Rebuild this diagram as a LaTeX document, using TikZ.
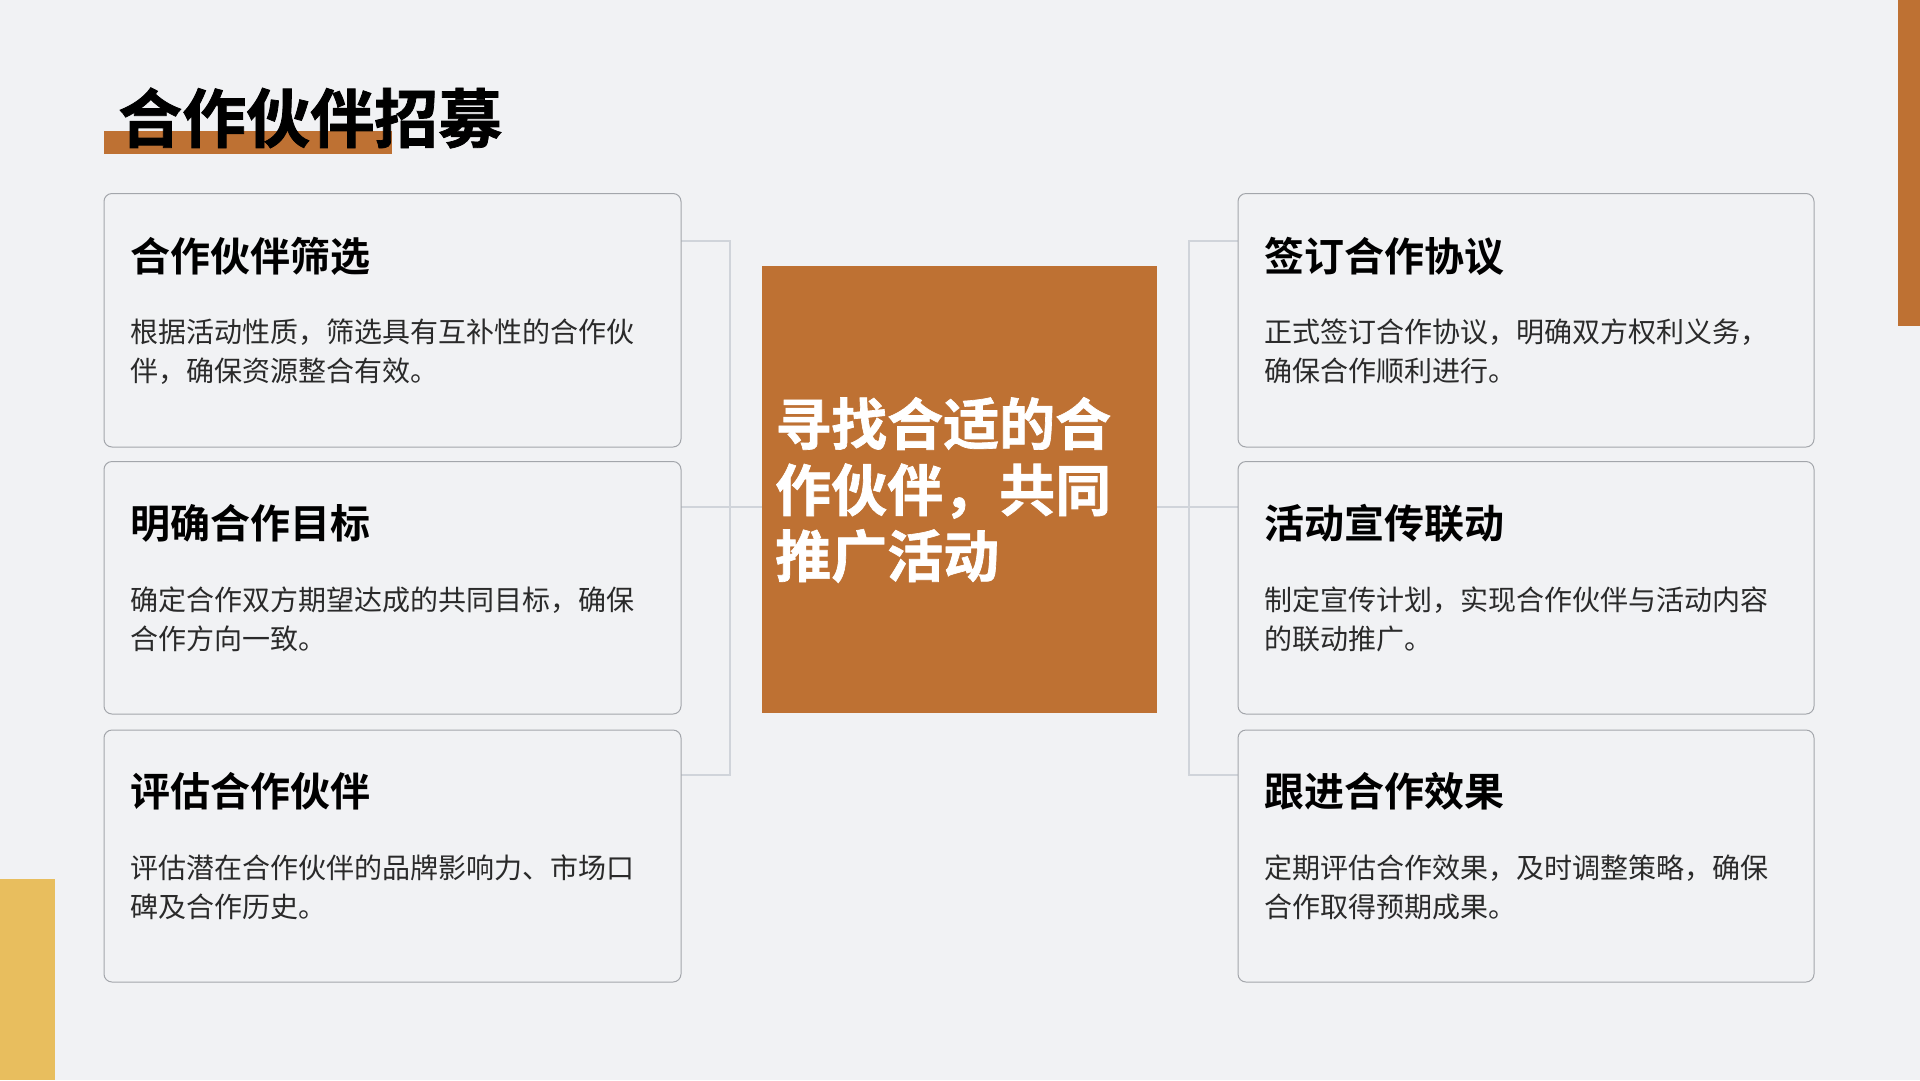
\documentclass[tikz,border=0pt]{standalone}
\usepackage{fontspec}
\setmainfont{Noto Sans CJK SC}[BoldFont={Noto Sans CJK SC Bold}]
\newfontfamily\heavyfont{Noto Sans CJK SC Bold}[FakeBold=1.2]
\definecolor{bgc}{HTML}{F1F2F4}
\definecolor{orng}{HTML}{BE7133}
\definecolor{yel}{HTML}{E8BE5E}
\definecolor{cardline}{HTML}{A3A6AB}
\definecolor{conn}{HTML}{D0D4DA}
\definecolor{bodyc}{HTML}{2A2A2A}
\tikzset{
  card/.style={draw=cardline, line width=1pt, fill=bgc, rounded corners=8pt},
  cardtitle/.style={anchor=west, inner sep=0pt, font=\fontsize{40}{48}\selectfont\bfseries, text=black},
  cardbody/.style={anchor=west, inner sep=0pt, align=left, font=\fontsize{28}{39}\selectfont, text=bodyc},
  connline/.style={draw=conn, line width=1.2pt},
}
\begin{document}
\begin{tikzpicture}[x=1pt,y=-1pt]
\useasboundingbox (0,0) rectangle (1920,1080);
\fill[bgc] (0,0) rectangle (1920,1080);
% decorative bars
\fill[orng] (1898,0) rectangle (1920,326);
\fill[yel] (0,879) rectangle (55,1080);
% title
\fill[orng] (104,131) rectangle (392,154);
\node[anchor=west, inner sep=0pt, font=\fontsize{64}{72}\selectfont\heavyfont] (title) at (118,118) {合作伙伴招募};
% connectors coordinates
\coordinate (lv1) at (730,241);
\coordinate (lv3) at (730,775);
\coordinate (rv1) at (1189,241);
\coordinate (rv3) at (1189,775);
\draw[connline] (681,241) -- (lv1) -- (lv3) -- (681,775);
\draw[connline] (681,507) -- (762,507);
\draw[connline] (1238,241) -- (rv1) -- (rv3) -- (1238,775);
\draw[connline] (1157,507) -- (1238,507);
% center box
\node[fill=orng, minimum width=395pt, minimum height=447pt, inner sep=0pt, anchor=north west] (center) at (762,266) {};
\node[anchor=north west, inner sep=0pt, align=left, text=white, font=\fontsize{56}{66}\selectfont\heavyfont] (ctext) at (775,397) {寻找合适的合\\作伙伴，共同\\推广活动};
% left cards
\draw[card] (104,193.5) rectangle (681,447) node[pos=0, inner sep=0pt] (c1) {};
\node[cardtitle] (t1) at (130,256) {合作伙伴筛选};
\node[cardbody] (b1) at (130,351.5) {根据活动性质，筛选具有互补性的合作伙\\伴，确保资源整合有效。};
\draw[card] (104,461.5) rectangle (681,714) node[pos=0, inner sep=0pt] (c2) {};
\node[cardtitle] (t2) at (130,523) {明确合作目标};
\node[cardbody] (b2) at (130,619) {确定合作双方期望达成的共同目标，确保\\合作方向一致。};
\draw[card] (104,730) rectangle (681,982) node[pos=0, inner sep=0pt] (c3) {};
\node[cardtitle] (t3) at (130,791) {评估合作伙伴};
\node[cardbody] (b3) at (130,887) {评估潜在合作伙伴的品牌影响力、市场口\\碑及合作历史。};
% right cards
\draw[card] (1238,193.5) rectangle (1814,447) node[pos=0, inner sep=0pt] (c4) {};
\node[cardtitle] (t4) at (1264,256) {签订合作协议};
\node[cardbody] (b4) at (1264,351.5) {正式签订合作协议，明确双方权利义务，\\确保合作顺利进行。};
\draw[card] (1238,461.5) rectangle (1814,714) node[pos=0, inner sep=0pt] (c5) {};
\node[cardtitle] (t5) at (1264,523) {活动宣传联动};
\node[cardbody] (b5) at (1264,619) {制定宣传计划，实现合作伙伴与活动内容\\的联动推广。};
\draw[card] (1238,730) rectangle (1814,982) node[pos=0, inner sep=0pt] (c6) {};
\node[cardtitle] (t6) at (1264,791) {跟进合作效果};
\node[cardbody] (b6) at (1264,887) {定期评估合作效果，及时调整策略，确保\\合作取得预期成果。};
\end{tikzpicture}
\end{document}
